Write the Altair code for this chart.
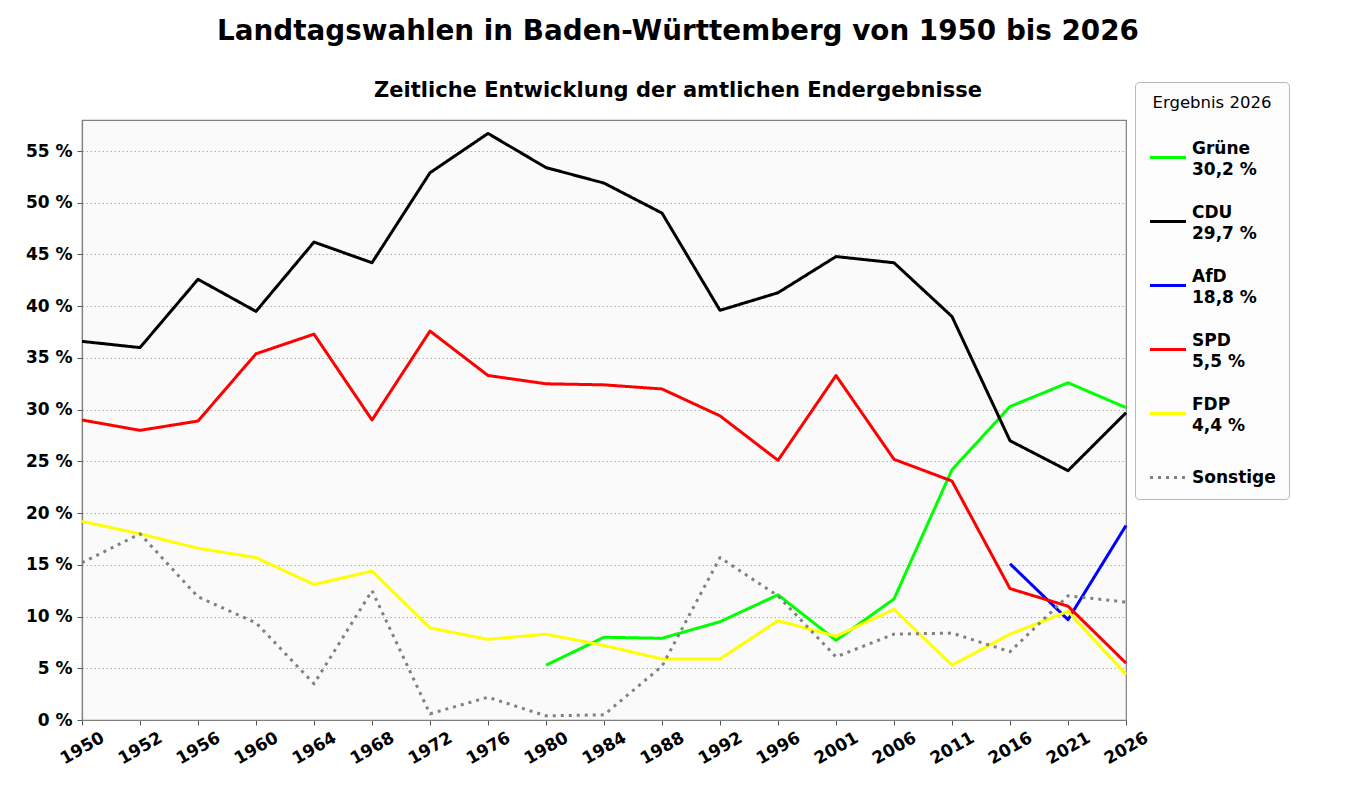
import altair as alt
import pandas as pd

years = ["1950", "1952", "1956", "1960", "1964", "1968", "1972", "1976", "1980", "1984",
         "1988", "1992", "1996", "2001", "2006", "2011", "2016", "2021", "2026"]

gruene = [None, None, None, None, None, None, None, None, 5.3, 8.0,
          7.9, 9.5, 12.1, 7.7, 11.7, 24.2, 30.3, 32.6, 30.2]
cdu = [36.6, 36.0, 42.6, 39.5, 46.2, 44.2, 52.9, 56.7, 53.4, 51.9,
       49.0, 39.6, 41.3, 44.8, 44.2, 39.0, 27.0, 24.1, 29.7]
afd = [None, None, None, None, None, None, None, None, None, None,
       None, None, None, None, None, None, 15.1, 9.7, 18.8]
spd = [29.0, 28.0, 28.9, 35.4, 37.3, 29.0, 37.6, 33.3, 32.5, 32.4,
       32.0, 29.4, 25.1, 33.3, 25.2, 23.1, 12.7, 11.0, 5.5]
fdp = [19.2, 18.0, 16.6, 15.7, 13.1, 14.4, 8.9, 7.8, 8.3, 7.2,
       5.9, 5.9, 9.6, 8.1, 10.7, 5.3, 8.3, 10.5, 4.4]
sonstige = [15.2, 18.0, 11.9, 9.4, 3.5, 12.5, 0.6, 2.2, 0.4, 0.5,
            5.2, 15.7, 12.0, 6.1, 8.3, 8.4, 6.6, 12.0, 11.4]

parties = ["Grüne", "CDU", "AfD", "SPD", "FDP", "Sonstige"]
results_2026 = ["30,2 %", "29,7 %", "18,8 %", "5,5 %", "4,4 %", ""]
colors = ["#00ff00", "#000000", "#0000ff", "#ff0000", "#ffff00", "#808080"]
dashes = [[1, 0], [1, 0], [1, 0], [1, 0], [1, 0], [3, 5]]

series = [gruene, cdu, afd, spd, fdp, sonstige]
labels = [p + ("\n" + r if r else "") for p, r in zip(parties, results_2026)]

rows = []
for lab, vals in zip(labels, series):
    for y, v in zip(years, vals):
        if v is not None:
            rows.append({"Jahr": y, "Partei": lab, "Wert": v})
df = pd.DataFrame(rows)

legend = alt.Legend(
    title="Ergebnis 2026",
    orient="none",
    legendX=1053,
    legendY=-38,
    direction="vertical",
    titleFont="DejaVu Sans",
    titleFontSize=16.5,
    titleFontWeight="normal",
    titleColor="#000000",
    titleAnchor="middle",
    titlePadding=26,
    labelFont="DejaVu Sans",
    labelFontSize=17,
    labelFontWeight="bold",
    labelColor="#000000",
    labelExpr="split(datum.label, '\\n')",
    labelBaseline={"expr": "indexof(datum.label, '\\n') >= 0 ? 'bottom' : 'middle'"},
    labelLimit=0,
    labelOffset=4,
    symbolType="stroke",
    symbolSize=1300,
    symbolStrokeWidth=3,
    rowPadding=24,
    padding=13,
    strokeColor="#b8b8b8",
    fillColor="#fcfcfc",
    cornerRadius=4,
)

chart = alt.Chart(df).mark_line(strokeWidth=3, strokeCap="butt", strokeJoin="round").encode(
    x=alt.X("Jahr:O", sort=years,
            scale=alt.Scale(type="point", padding=0, domain=years),
            axis=alt.Axis(title=None, labelAngle=330, labelAlign="center",
                          labelBaseline="middle", labelPadding=23)),
    y=alt.Y("Wert:Q", scale=alt.Scale(domain=[0, 58], nice=False),
            axis=alt.Axis(title=None, values=list(range(0, 60, 5)),
                          labelExpr="datum.value + ' %'", labelPadding=5)),
    color=alt.Color("Partei:N", scale=alt.Scale(domain=labels, range=colors), legend=legend),
    strokeDash=alt.StrokeDash("Partei:N", scale=alt.Scale(domain=labels, range=dashes), legend=legend),
    order=alt.Order("Jahr:O"),
).properties(
    width=1044,
    height=600,
    background="#ffffff",
    autosize=alt.AutoSizeParams(type="none"),
    padding={"left": 74, "top": 112, "right": 220, "bottom": 70},
    title=alt.TitleParams(
        text="Landtagswahlen in Baden-Württemberg von 1950 bis 2026",
        subtitle="Zeitliche Entwicklung der amtlichen Endergebnisse",
        font="DejaVu Sans", fontSize=27.8, fontWeight="bold", color="#000000",
        subtitleFont="DejaVu Sans", subtitleFontSize=21, subtitleFontWeight="bold",
        subtitleColor="#000000",
        anchor="middle", frame="group", dx=74, offset=-19, subtitlePadding=34,
    ),
).configure(
    view=alt.ViewConfig(fill="#fafafa", stroke="#808080", strokeWidth=1.2),
    axis=alt.AxisConfig(
        labelFont="DejaVu Sans", labelFontSize=17, labelFontWeight="bold", labelColor="#000000",
        domainColor="#808080", domainWidth=1.2, tickColor="#555555", tickSize=5,
        gridColor="#b0b0b0", gridDash=[1.5, 2.5], gridWidth=1,
    ),
    style={"guide-label": {"lineHeight": 21}},
)

chart.save("out.html", embed_options={"renderer": "svg", "actions": False})
